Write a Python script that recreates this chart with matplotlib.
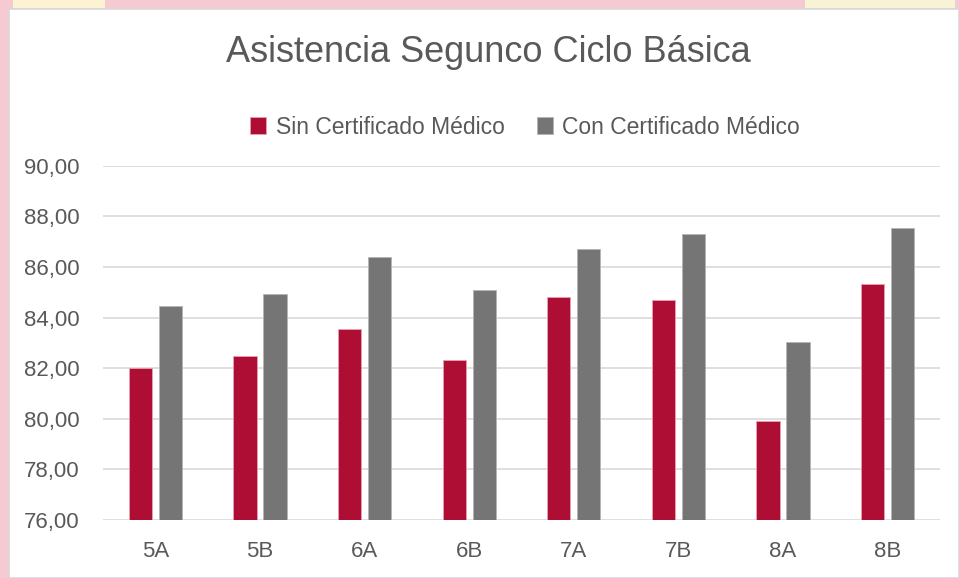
import matplotlib
matplotlib.use("Agg")
import matplotlib.pyplot as plt
import numpy as np
from matplotlib.patches import Rectangle

categories = ["5A", "5B", "6A", "6B", "7A", "7B", "8A", "8B"]
sin_cert = [82.00, 82.48, 83.55, 82.31, 84.80, 84.71, 79.91, 85.33]
con_cert = [84.46, 84.94, 86.38, 85.08, 86.70, 87.30, 83.04, 87.55]
series_names = ["Sin Certificado Médico", "Con Certificado Médico"]
yticks = [76, 78, 80, 82, 84, 86, 88, 90]

plt.rcParams['font.family'] = ['Liberation Sans', 'DejaVu Sans']
txt = "#595959"

W, H = 959, 578
fig = plt.figure(figsize=(W/100, H/100), dpi=100)
fig.patch.set_facecolor("#F6CAD3")

# white chart area
fig.patches.append(Rectangle((9/W, 0), 1 - 9/W, (H - 9)/H, transform=fig.transFigure,
                             facecolor="white", edgecolor="#D9D9D9", linewidth=1.2, zorder=-10))
# pastel patches in the top strip
fig.patches.append(Rectangle((13/W, (H - 8)/H), 92/W, 8/H, transform=fig.transFigure,
                             facecolor="#FBF3D2", edgecolor="none", zorder=-10))
fig.patches.append(Rectangle((805/W, (H - 8)/H), 150/W, 8/H, transform=fig.transFigure,
                             facecolor="#F8F3D6", edgecolor="none", zorder=-10))

ax = fig.add_axes([103/W, 1 - 520/H, (940 - 103)/W, (520 - 165.7)/H])
ax.set_facecolor("none")
ax.set_zorder(1)

x = np.arange(len(categories))
bw = 0.223
gap = 0.064
off = (bw + gap) / 2
ax.bar(x - off, np.array(sin_cert) - 76, bw, bottom=76, color="#AE0E34",
       edgecolor="#E7A0B0", linewidth=0.6, label=series_names[0], zorder=3)
ax.bar(x + off, np.array(con_cert) - 76, bw, bottom=76, color="#757575",
       edgecolor="#B5B5B5", linewidth=0.6, label=series_names[1], zorder=3)

ax.set_xlim(-0.5, len(categories) - 0.5)
ax.set_ylim(76, 90)
ax.set_yticks(yticks)
ax.set_yticklabels([f"{v:.2f}".replace(".", ",") for v in yticks])
ax.set_xticks(x)
ax.set_xticklabels(categories)
ax.yaxis.grid(True, color="#D9D9D9", linewidth=1.2, zorder=0)
ax.set_axisbelow(True)
for s in ax.spines.values():
    s.set_visible(False)
ax.tick_params(axis="both", length=0, colors=txt, labelsize=16)
ax.tick_params(axis="y", pad=17)
ax.tick_params(axis="x", pad=15)

fig.text(488/W, 1 - 52/H, "Asistencia Segunco Ciclo Básica", ha="center", va="center",
         fontsize=26, color=txt)

leg = fig.legend(loc="center", bbox_to_anchor=(525/W, 1 - 127/H), ncol=2, frameon=False,
                 fontsize=16.5, handlelength=0.7, handleheight=0.7, handletextpad=0.4,
                 columnspacing=1.4, labelcolor=txt)

fig.savefig("out.png", dpi=100, facecolor=fig.get_facecolor())
